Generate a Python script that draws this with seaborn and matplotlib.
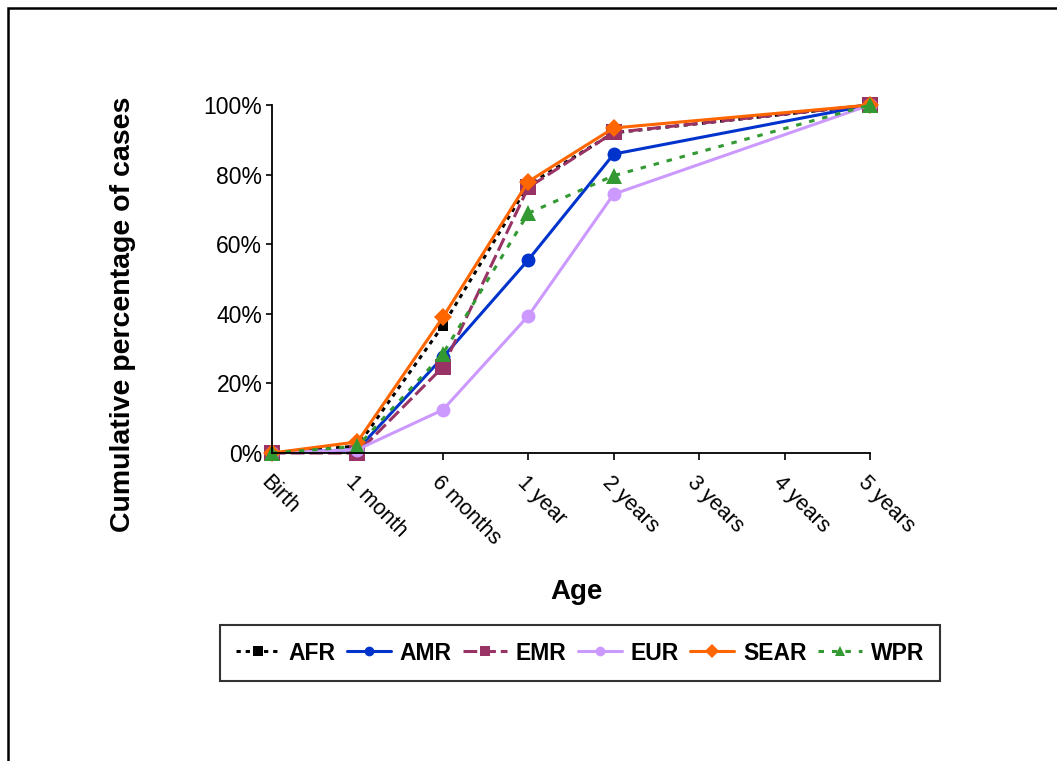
import numpy as np
import pandas as pd
import matplotlib
matplotlib.use("Agg")
import matplotlib.pyplot as plt
import matplotlib.transforms as mtransforms
from matplotlib.lines import Line2D
from matplotlib.patches import Rectangle
from matplotlib.ticker import FuncFormatter
import seaborn as sns

# ---- data ----
ages = ["Birth", "1 month", "6 months", "1 year", "2 years", "3 years", "4 years", "5 years"]
regions = ["AFR", "AMR", "EMR", "EUR", "SEAR", "WPR"]
afr = [0, 2.0, 36.6, 77.0, 92.0, None, None, 100]
amr = [0, 1.0, 27.5, 55.5, 85.9, None, None, 100]
emr = [0, 0.0, 24.7, 76.3, 92.1, None, None, 100]
eur = [0, 1.0, 12.4, 39.4, 74.4, None, None, 100]
sear = [0, 3.2, 39.0, 78.0, 93.4, None, None, 100]
wpr = [0, 1.9, 28.5, 68.9, 79.7, None, None, 100]
series = dict(AFR=afr, AMR=amr, EMR=emr, EUR=eur, SEAR=sear, WPR=wpr)

rows = []
for reg in regions:
    for i, (age, v) in enumerate(zip(ages, series[reg])):
        if v is not None:
            rows.append(dict(region=reg, age=age, pos=i, value=v))
df = pd.DataFrame(rows)

# ---- styles ----
colors = dict(AFR="#000000", AMR="#0033CC", EMR="#993366", EUR="#CC99FF", SEAR="#FF6600", WPR="#339933")
markers = dict(AFR="s", AMR="o", EMR="s", EUR="o", SEAR="D", WPR="^")
msizes = dict(AFR=7.5, AMR=10, EMR=11, EUR=10, SEAR=9, WPR=11)
lstyles = dict(AFR=(0, (1.4, 1.6)), AMR="-", EMR=(0, (4.5, 1.6)), EUR="-", SEAR="-", WPR=(0, (1.8, 2.6)))

sns.set_theme(style="white")
plt.rcParams["font.family"] = ["Liberation Sans", "DejaVu Sans"]
for k in ["text.color", "axes.labelcolor", "xtick.color", "ytick.color", "axes.edgecolor"]:
    plt.rcParams[k] = "black"

fig = plt.figure(figsize=(10.57, 7.61), dpi=100)
ax = fig.add_axes([272 / 1057, 1 - 453 / 761, (870 - 272) / 1057, (453 - 105) / 761])

for reg in regions:
    sub = df[df.region == reg]
    sns.lineplot(data=sub, x="pos", y="value", ax=ax, color=colors[reg],
                 marker=markers[reg], markersize=msizes[reg], markeredgewidth=0,
                 linewidth=2.2, linestyle=lstyles[reg], clip_on=False, sort=False,
                 legend=False)

ax.set_xlim(0, len(ages) - 1)
ax.set_ylim(0, 100)
ax.set_yticks([0, 20, 40, 60, 80, 100])
ax.yaxis.set_major_formatter(FuncFormatter(lambda v, p: f"{v:.0f}%"))
ax.set_xticks(range(len(ages)))
ax.set_xticklabels(ages, rotation=-45, ha="left", va="center", rotation_mode="anchor")
for sp in ["top", "right"]:
    ax.spines[sp].set_visible(False)
for sp in ["left", "bottom"]:
    ax.spines[sp].set_color("black")
    ax.spines[sp].set_linewidth(1.3)
ax.tick_params(axis="y", which="major", direction="out", length=4, width=1.2, color="black",
               labelsize=16.5, pad=3, left=True, labelcolor="black")
ax.tick_params(axis="x", which="major", direction="out", length=5, width=1.2, color="black",
               labelsize=15.5, pad=14, bottom=True, labelcolor="black")
offset = mtransforms.ScaledTranslation(-6 / 72, 0, fig.dpi_scale_trans)
for lab in ax.get_xticklabels():
    lab.set_transform(lab.get_transform() + offset)
ax.set_xlabel("")
ax.set_ylabel("")

fig.text(123 / 1057, 1 - 314 / 761, "Cumulative percentage of cases", rotation=90,
         ha="center", va="center", fontsize=20.5, fontweight="bold", color="black")
fig.text(576 / 1057, 1 - 592 / 761, "Age", ha="center", va="center",
         fontsize=20, fontweight="bold", color="black")

handles = []
for reg in regions:
    handles.append(Line2D([0], [0], color=colors[reg], marker=markers[reg],
                          markersize=7, markeredgewidth=0, linewidth=2.2,
                          linestyle=lstyles[reg]))
leg = fig.legend(handles, regions, loc="center", bbox_to_anchor=(580 / 1057, 1 - 653 / 761),
                 ncol=6, frameon=True, fancybox=False, shadow=False,
                 prop=dict(weight="bold", size=16.5), handlelength=1.9, handletextpad=0.4,
                 columnspacing=0.5, borderpad=0.7, labelcolor="black")
leg.get_frame().set_edgecolor("black")
leg.get_frame().set_linewidth(1.5)

fig.patches.append(Rectangle((8 / 1057, -0.1), 1.2, 1.1 - 8 / 761, transform=fig.transFigure,
                             fill=False, edgecolor="black", linewidth=1.8, clip_on=False))

fig.savefig("out.png", dpi=100, facecolor="white")
